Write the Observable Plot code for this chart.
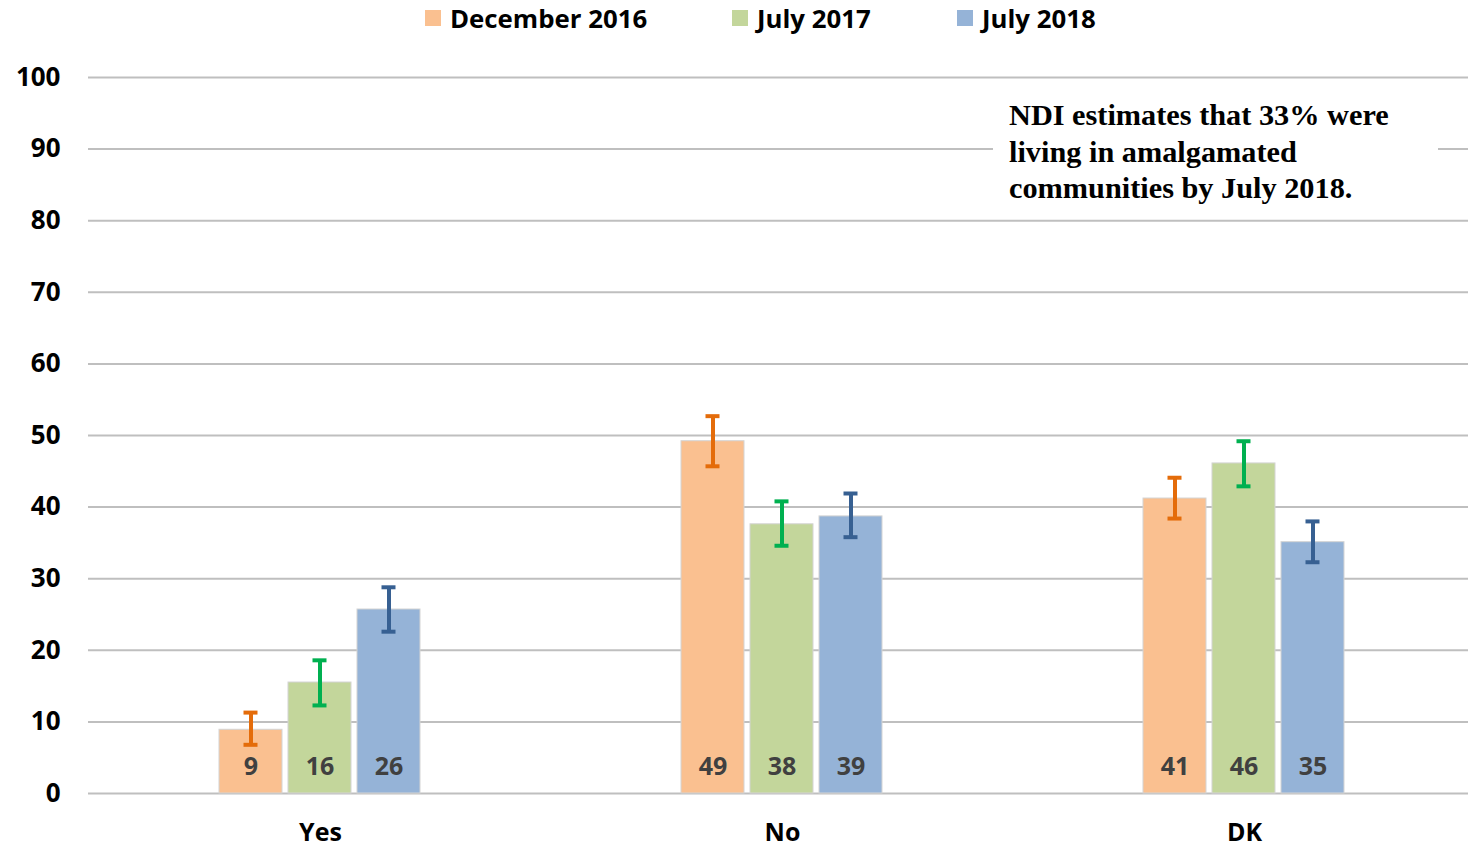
<!DOCTYPE html>
<html>
<head>
<meta charset="utf-8">
<script src="https://cdn.jsdelivr.net/npm/d3@7"></script>
<script src="https://cdn.jsdelivr.net/npm/@observablehq/plot@0.6"></script>
<style>
  html, body { margin: 0; padding: 0; background: #fff; overflow: hidden; }
  #wrap { position: relative; width: 1468px; height: 847px; }
  #legend { position: absolute; left: 0; top: -2px; width: 1468px; height: 40px;
    font-family: "Open Sans", sans-serif; font-weight: 700; font-size: 25.8px; color: #000; }
  .item { position: absolute; top: 0; height: 40px; display: flex; align-items: center; white-space: nowrap; }
  .sw { width: 16px; height: 16px; margin-right: 9px; }
  .layer { position: absolute; left: 0; top: 40px; }
  #note { position: absolute; left: 993px; top: 97px; width: 429px; padding-left: 16px; background: #fff; white-space: nowrap;
    font-family: "Liberation Serif", "Times New Roman", serif; font-weight: 700; font-size: 30.3px; line-height: 36.5px; color: #000; }
</style>
</head>
<body>
<div id="wrap">
  <div id="legend"></div>
  <div id="grid" class="layer"></div>
  <div id="chart" class="layer"></div>
  <div id="note">NDI estimates that 33% were<br>living in amalgamated<br>communities by July 2018.</div>
</div>
<script>
const categories = ["Yes", "No", "DK"];
const seriesNames = ["December 2016", "July 2017", "July 2018"];
const barColors = ["#FAC090", "#C3D69B", "#95B3D7"];
const errColors = ["#E46C0A", "#00B050", "#376092"];
const dec2016 = [8.9, 49.2, 41.2];
const jul2017 = [15.5, 37.6, 46.1];
const jul2018 = [25.7, 38.7, 35.1];
const dec2016Low = [6.8, 45.7, 38.4];
const dec2016High = [11.3, 52.7, 44.1];
const jul2017Low = [12.3, 34.6, 42.9];
const jul2017High = [18.6, 40.8, 49.2];
const jul2018Low = [22.6, 35.8, 32.3];
const jul2018High = [28.8, 41.9, 38.0];
const yTicks = [0, 10, 20, 30, 40, 50, 60, 70, 80, 90, 100];

const valueSets = [dec2016, jul2017, jul2018];
const lowSets = [dec2016Low, jul2017Low, jul2018Low];
const highSets = [dec2016High, jul2017High, jul2018High];

const rows = [];
categories.forEach((c, i) => {
  seriesNames.forEach((s, j) => {
    rows.push({category: c, series: s, value: valueSets[j][i], lo: lowSets[j][i], hi: highSets[j][i]});
  });
});

// legend
const legendLeft = [425, 732, 957];
const legend = document.getElementById("legend");
seriesNames.forEach((s, j) => {
  const it = document.createElement("div");
  it.className = "item";
  it.style.left = legendLeft[j] + "px";
  const sw = document.createElement("div");
  sw.className = "sw";
  sw.style.background = barColors[j];
  const t = document.createElement("span");
  t.textContent = s;
  it.appendChild(sw); it.appendChild(t);
  legend.appendChild(it);
});

const dims = {width: 1468, height: 807, marginLeft: 88, marginRight: -8, marginTop: 37, marginBottom: 54};
const font = {fontFamily: "Open Sans, sans-serif", fontWeight: 700, fontSize: "25px", color: "#000", background: "transparent"};

// background: y axis and gridlines across the full frame
const grid = Plot.plot({
  ...dims,
  style: {...font, fontSize: "26px"},
  x: {axis: null},
  y: {domain: [0, 100], ticks: yTicks, tickSize: 0, tickPadding: 28, label: null, tickFormat: d3.format("d")},
  marks: [
    Plot.ruleY(yTicks, {y: d => d, stroke: "#bfbfbf", strokeWidth: 2})
  ]
});
document.getElementById("grid").appendChild(grid);

const errStroke = d => errColors[seriesNames.indexOf(d.series)];
const chart = Plot.plot({
  ...dims,
  style: font,
  fx: {domain: categories, paddingInner: 0.559, paddingOuter: 0.2795, label: null, axis: "bottom", tickSize: 0, tickPadding: 30},
  x: {domain: seriesNames, paddingInner: 0.0857, paddingOuter: 0, axis: null},
  y: {domain: [0, 100], axis: null},
  color: {domain: seriesNames, range: barColors},
  marks: [
    Plot.barY(rows, {fx: "category", x: "series", y: "value", fill: "series", stroke: "#d4d4d4", strokeWidth: 1}),
    Plot.ruleX(rows, {fx: "category", x: "series", y1: "lo", y2: "hi", stroke: errStroke, strokeWidth: 4}),
    Plot.tickY(rows, {fx: "category", x: "series", y: "lo", stroke: errStroke, strokeWidth: 4, inset: 24.5}),
    Plot.tickY(rows, {fx: "category", x: "series", y: "hi", stroke: errStroke, strokeWidth: 4, inset: 24.5}),
    Plot.text(rows, {fx: "category", x: "series", y: 0, dy: -27, text: d => String(Math.round(d.value)), fill: "#404040", fontSize: 25, fontWeight: 700, textAnchor: "middle"})
  ]
});
document.getElementById("chart").appendChild(chart);
</script>
</body>
</html>
